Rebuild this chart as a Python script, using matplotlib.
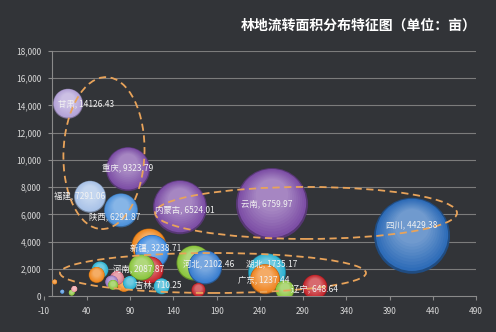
import numpy as np
import matplotlib.pyplot as plt
from matplotlib.patches import Ellipse
from matplotlib.transforms import IdentityTransform
from matplotlib.colors import to_rgb

plt.rcParams['font.family'] = ['Noto Sans CJK SC', 'DejaVu Sans']

# bubbles (x, y = transferred area, size = third variable)
names = ['甘肃', '重庆', '福建', '陕西', '内蒙古', '云南', '四川', '新疆', '', '河南', '',
         '河北', '', '吉林', '湖北', '广东', '', '辽宁', '', '', '', '', '', '', '', '',
         '', '', '', '']
x_vals = [18.1, 87.5, 43.6, 79.4, 147.6, 254.0, 416.0, 115.3, 111.8, 103.3, 113.0,
          176.6, 163.8, 126.5, 248.3, 246.0, 269.0, 303.8, 169.0, 51.3, 55.1, 74.8,
          68.6, 70.2, 82.9, 89.8, 2.7, 11.5, 22.4, 25.4]
y_vals = [14126.43, 9323.79, 7291.06, 6291.87, 6524.01, 6759.97, 4429.38, 3238.71, 3676,
          2087.87, 1912, 2102.46, 2426, 710.25, 1735.17, 1237.44, 441, 648.64, 441, 1544,
          1912, 1324, 1029, 809, 809, 956, 1029, 316, 243, 515]
sizes = [225, 484, 256, 289, 729, 1296, 1444, 289, 306, 169, 182, 289, 306, 64, 361, 225,
         90, 156, 49, 64, 72, 49, 42, 25, 49, 49, 6, 4, 9, 9]
colors = ['#b4a3d8', '#7d4fa6', '#a9c3e8', '#4f93dc', '#7d4fa6', '#7d4fa6', '#2e6cb8',
          '#3f8be0', '#f0881e', '#8cc63f', '#c8282e', '#3a7fd0', '#8cc63f', '#2fb3d3',
          '#2fb3d3', '#ef8420', '#8cc63f', '#c4262c', '#c4262c', '#f0881e', '#2fb3d3',
          '#e07a8a', '#9d7ac6', '#8cc63f', '#f0881e', '#2fb3d3', '#f0881e', '#4f93dc',
          '#8cc63f', '#f2a0a8']

# label offsets in pixels (dx, dy)
label_off = {'甘肃': (18, 0), '重庆': (0, 0), '福建': (-10, 0), '陕西': (-6, -6),
             '内蒙古': (5, -3), '云南': (-5, 0), '四川': (0, 11), '新疆': (4, 4),
             '河南': (-3, -2), '河北': (4, 3), '吉林': (-3, 2), '湖北': (5, 9),
             '广东': (-1, -1), '辽宁': (-1, -3)}

bg = '#323438'
fig = plt.figure(figsize=(4.96, 3.32), dpi=100, facecolor=bg)
ax = fig.add_axes([0.0881, 0.1084, 0.8716, 0.738])
ax.set_facecolor(bg)
ax.set_xlim(-10, 490)
ax.set_ylim(0, 18000)

yt = np.arange(0, 18001, 2000)
xt = np.arange(-10, 491, 50)
ax.hlines(yt[1:], 0, 490, color='#7c7c7c', lw=0.8, zorder=0)
ax.set_yticks(yt)
ax.set_yticklabels([f'{v:,}' for v in yt])
ax.set_xticks(xt)
ax.set_xticklabels([str(v) for v in xt])
for s in ['top', 'right']:
    ax.spines[s].set_visible(False)
ax.spines['left'].set_position(('data', 0))
ax.spines['bottom'].set_bounds(0, 490)
for s in ['left', 'bottom']:
    ax.spines[s].set_color('#8a8a8a')
    ax.spines[s].set_linewidth(0.8)
ax.tick_params(axis='both', colors='#8a8a8a', labelcolor='#d8d8d8', labelsize=6,
               length=3, width=0.8)
ax.tick_params(axis='y', pad=5)
ax.tick_params(axis='x', pad=5)

# pixel -> data scale for highlight offsets
px_per_y = ax.transData.transform((0, 1000))[1] - ax.transData.transform((0, 0))[1]
data_per_px = 1000 / px_per_y

order = np.argsort(sizes)[::-1]
z = 2
for i in order:
    base = np.array(to_rgb(colors[i]))
    r = np.sqrt(sizes[i])
    dark = base * 0.7
    ax.scatter(x_vals[i], y_vals[i], s=2.0736 * sizes[i], color=dark, edgecolors='none',
               zorder=z)
    z += 1
    n = 10
    for k in range(n):
        f = 0.95 - 0.055 * k
        c = base + (1 - base) * (0.035 * k)
        dy = r * (1 - f) * 0.45 * data_per_px
        ax.scatter(x_vals[i], y_vals[i] + dy, s=2.0736 * sizes[i] * f * f, color=c,
                   edgecolors='none', zorder=z)
        z += 1

for i, nm in enumerate(names):
    if nm:
        dx, dy = label_off[nm]
        ax.annotate(f'{nm}, {y_vals[i]}', (x_vals[i], y_vals[i]), xytext=(dx, dy),
                    textcoords='offset pixels', ha='center', va='center', fontsize=6,
                    color='#f2f2f2', zorder=1000)

# dashed group outlines: centre in data, size in pixels
groups = [((59.7, 10500), 81, 152, -2), ((293.4, 6103), 302, 52, 0),
          ((185.8, 1691), 306, 40, 0)]
for (cx, cy), w, h, ang in groups:
    px, py = ax.transData.transform((cx, cy))
    ax.add_patch(Ellipse((px, py), w, h, angle=ang, transform=IdentityTransform(),
                         fill=False, ec='#e8a35a', lw=1.3, ls=(0, (4, 2.5)),
                         zorder=900))

fig.text(0.96, 0.922, '林地流转面积分布特征图（单位：亩）', ha='right', va='center',
         fontsize=10, color='white', fontweight='bold')

fig.savefig('out.png', dpi=100, facecolor=bg)
